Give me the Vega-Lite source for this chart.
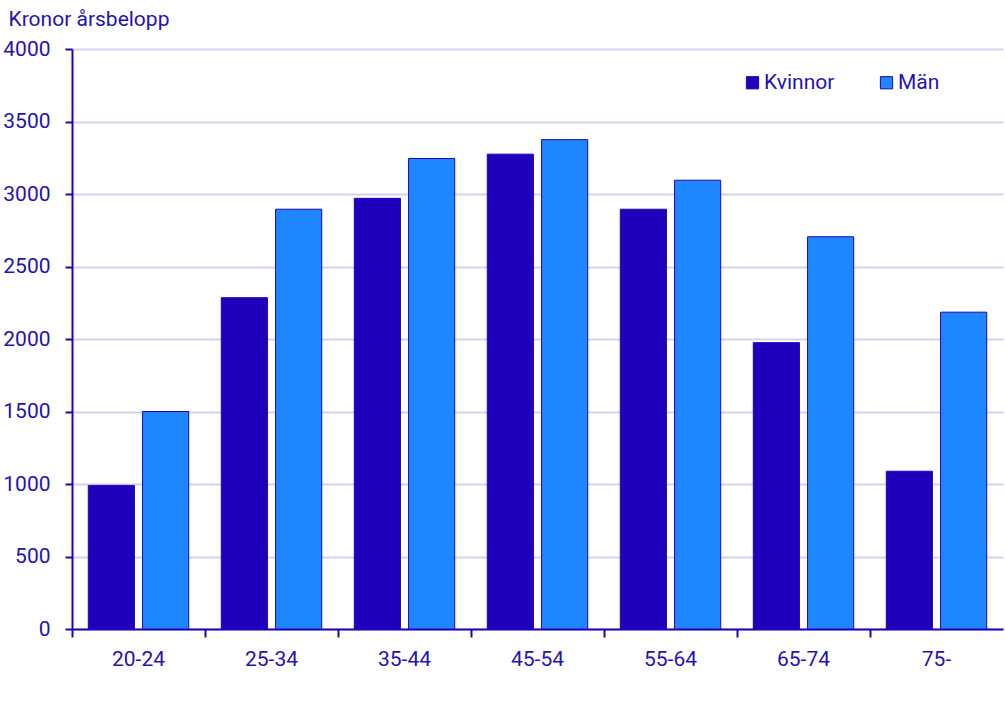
{
  "$schema": "https://vega.github.io/schema/vega-lite/v6.json",
  "autosize": "none",
  "width": 931,
  "height": 580,
  "padding": {"left": 72, "top": 49, "right": 2, "bottom": 80},
  "background": "white",
  "config": {
    "font": "Roboto",
    "view": {"stroke": null},
    "axis": {"labelColor": "#2412b3", "titleColor": "#2412b3", "domainColor": "#2200bb", "tickColor": "#2200bb", "domainWidth": 2, "tickWidth": 2, "labelFontSize": 21, "titleFontSize": 21, "titleFontWeight": "normal"}
  },
  "data": {
    "values": [
      {"alder": "20-24", "kon": "Kvinnor", "belopp": 990},
      {"alder": "20-24", "kon": "Män", "belopp": 1500},
      {"alder": "25-34", "kon": "Kvinnor", "belopp": 2285},
      {"alder": "25-34", "kon": "Män", "belopp": 2895},
      {"alder": "35-44", "kon": "Kvinnor", "belopp": 2970},
      {"alder": "35-44", "kon": "Män", "belopp": 3245},
      {"alder": "45-54", "kon": "Kvinnor", "belopp": 3275},
      {"alder": "45-54", "kon": "Män", "belopp": 3375},
      {"alder": "55-64", "kon": "Kvinnor", "belopp": 2895},
      {"alder": "55-64", "kon": "Män", "belopp": 3095},
      {"alder": "65-74", "kon": "Kvinnor", "belopp": 1975},
      {"alder": "65-74", "kon": "Män", "belopp": 2705},
      {"alder": "75-", "kon": "Kvinnor", "belopp": 1088},
      {"alder": "75-", "kon": "Män", "belopp": 2185}
    ]
  },
  "mark": {"type": "bar", "stroke": "#2200bb", "strokeWidth": 1},
  "encoding": {
    "x": {
      "field": "alder", "type": "nominal", "sort": null,
      "scale": {"paddingInner": 0, "paddingOuter": 0},
      "axis": {"title": null, "labelAngle": 0, "bandPosition": 0, "tickSize": 8, "labelPadding": 11, "grid": false}
    },
    "xOffset": {
      "field": "kon", "type": "nominal", "sort": ["Kvinnor", "Män"],
      "scale": {"paddingInner": 0.15, "paddingOuter": 0.3}
    },
    "y": {
      "field": "belopp", "type": "quantitative",
      "scale": {"domain": [0, 4000], "nice": false},
      "axis": {
        "title": "Kronor årsbelopp", "titleAngle": 0, "titleAlign": "left", "titleBaseline": "middle",
        "titleX": -64, "titleY": -30, "format": "d",
        "values": [0, 500, 1000, 1500, 2000, 2500, 3000, 3500, 4000],
        "tickSize": 7, "labelPadding": 15,
        "grid": true, "gridColor": "#d2d2ee", "gridWidth": 2
      }
    },
    "color": {
      "field": "kon", "type": "nominal",
      "scale": {"domain": ["Kvinnor", "Män"], "range": ["#1f00bb", "#1e87ff"]},
      "legend": {
        "title": null, "orient": "none", "legendX": 670, "legendY": 23, "direction": "horizontal",
        "symbolType": "square", "symbolSize": 150, "symbolStrokeColor": "#2200bb", "symbolStrokeWidth": 1,
        "labelFontSize": 21, "labelColor": "#2412b3", "labelOffset": 1, "columnPadding": 41
      }
    }
  }
}
